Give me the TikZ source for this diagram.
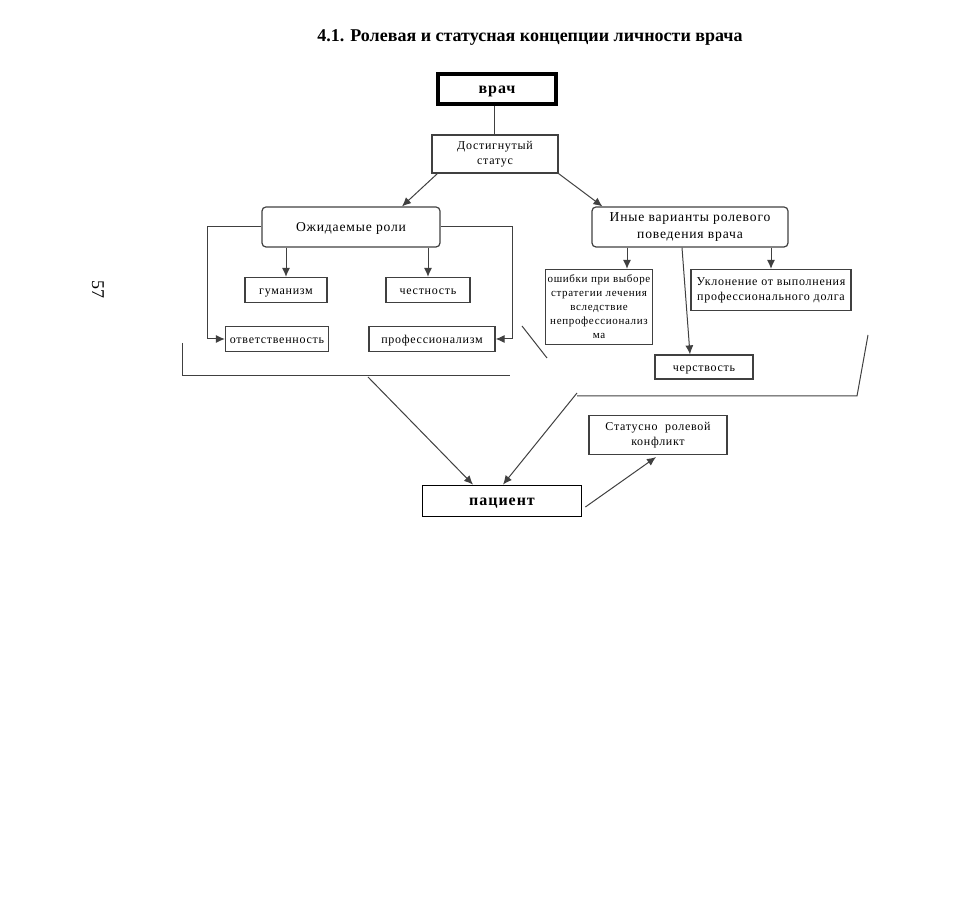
\documentclass[tikz,border=0pt]{standalone}
\usepackage{fontspec}
\setmainfont{Liberation Serif}
\newfontfamily\boxfont[LetterSpace=6]{Liberation Serif}
\usepackage{tikz}
\usetikzlibrary{calc}
\usetikzlibrary{arrows.meta}
\tikzset{ plain_box/.style = {rectangle, draw=black!75, line width=0.6pt, align=center, inner sep=1pt, font={\boxfont\fontsize{6}{7.5}\selectfont}} }
\tikzset{ round_box/.style = {plain_box, rounded corners=2pt, font={\boxfont\fontsize{6.8}{8.5}\selectfont}} }
\tikzset{ main_box/.style = {plain_box, line width=1.6pt, draw=black, font={\boxfont\bfseries\fontsize{8}{9}\selectfont}} }
\tikzset{ one_line/.style = {text height=0.48em, text depth=0.02em} }
\tikzset{ link/.style = {draw=black!75, line width=0.5pt} }
\tikzset{ arr/.style = {link, -{Latex[length=4.5pt,width=4pt]}} }

\begin{document}
\begin{tikzpicture}[x=0.5pt,y=-0.5pt]
            \useasboundingbox (0,0) rectangle (960,903);
            \node [font=\bfseries\fontsize{9}{10}\selectfont] (title) at (530,38) {4.1. Ролевая и статусная концепции личности врача};
            \node [rotate=-90, font=\fontsize{9}{9}\selectfont] (pg) at (98,290) {57};
            % top
            \node [style=main_box, one_line, minimum width=59pt, minimum height=15pt] (vrach) at (497,89) {врач};
            \node [style=plain_box, minimum width=63pt, minimum height=19pt] (status) at (495,154) {Достигнутый\\статус};
            % roles
            \node [style=round_box, one_line, minimum width=89pt, minimum height=20pt] (roles) at (351,227) {Ожидаемые роли};
            \node [style=round_box, minimum width=98pt, minimum height=20pt] (other) at (690,227) {Иные варианты ролевого\\поведения врача};
            \node [style=plain_box, one_line, minimum width=41pt, minimum height=12.5pt] (human) at (286,290) {гуманизм};
            \node [style=plain_box, one_line, minimum width=42pt, minimum height=12.5pt] (honest) at (428,290) {честность};
            \node [style=plain_box, one_line, minimum width=51.5pt, minimum height=12.5pt] (resp) at (277,339) {ответственность};
            \node [style=plain_box, one_line, minimum width=63pt, minimum height=12.5pt] (prof) at (432,339) {профессионализм};
            \node [style=plain_box, font={\boxfont\fontsize{5.5}{7}\selectfont}, minimum width=52pt, minimum height=37.5pt] (errors) at (599,307) {ошибки при выборе\\стратегии лечения\\вследствие\\непрофессионализ\\ма};
            \node [style=plain_box, minimum width=80pt, minimum height=20.5pt] (evasion) at (771,290) {Уклонение от выполнения\\профессионального долга};
            \node [style=plain_box, one_line, minimum width=49pt, minimum height=12pt] (callous) at (704,367) {черствость};
            % bottom
            \node [style=main_box, one_line, line width=0.9pt, minimum width=79.5pt, minimum height=15.5pt] (patient) at (502,501) {пациент};
            \node [style=plain_box, minimum width=69pt, minimum height=19.5pt] (conflict) at (658,435) {Статусно~~ролевой\\конфликт};
            % brackets
            \coordinate (lb1) at (182,343);
            \coordinate (lb2) at (510,376);
            \coordinate (lpt) at (368,377);
            \coordinate (rb0) at (522,326);
            \coordinate (rb1) at (547,358);
            \coordinate (rb2) at (577,396);
            \coordinate (rb3) at (857,396);
            \coordinate (rb4) at (868,335);
            \coordinate (rpt) at (577,393);
            \draw [link] (lb1) |- (lb2);
            \draw [link] (rb0) -- (rb1);
            \draw [link] (rb2) -- (rb3) -- (rb4);
            % links
            \draw [link] (vrach.south -| 494,0) -- (status.north -| 494,0);
            \draw [arr] ([xshift=3pt]status.south west) -- ($(roles.north)+(51,0)$);
            \draw [arr] (status.south east) -- ($(other.north west)+(11,0)$);
            \draw [arr] (human.north |- roles.south) -- (human.north);
            \draw [arr] (honest.north |- roles.south) -- (honest.north);
            \draw [arr] (roles.west) -- ++(-54,0) |- (resp.west);
            \draw [arr] (roles.east) -- ++(72,0) |- (prof.east);
            \draw [arr] (other.south -| 627,0) -- (errors.north -| 627,0);
            \draw [arr] (evasion.north |- other.south) -- (evasion.north);
            \draw [arr] (other.south -| 682,0) -- ($(callous.north)+(-14,0)$);
            \draw [arr] (lpt) -- ($(patient.north)+(-29,0)$);
            \draw [arr] (rpt) -- ($(patient.north)+(1,0)$);
            \draw [arr] ($(patient.east)+(3,6)$) -- ($(conflict.south)+(-2,2)$);
    \end{tikzpicture}
\end{document}
